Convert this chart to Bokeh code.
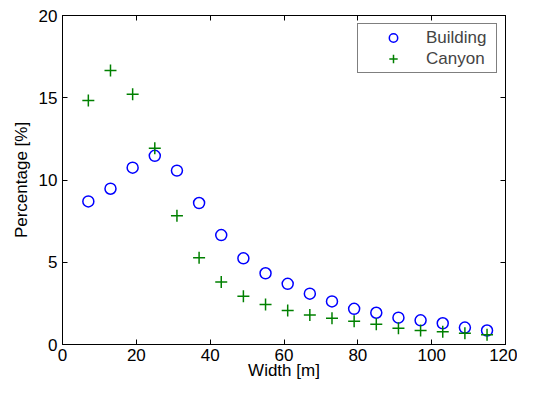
from bokeh.plotting import figure
from bokeh.models import Range1d, FixedTicker, LinearAxis, Legend, LegendItem, ColumnDataSource
from bokeh.embed import file_html
from bokeh.resources import INLINE

width_m = [7, 13, 19, 25, 31, 37, 43, 49, 55, 61, 67, 73, 79, 85, 91, 97, 103, 109, 115]
building = [8.7, 9.47, 10.75, 11.47, 10.57, 8.6, 6.65, 5.24, 4.33, 3.69, 3.09, 2.62, 2.17, 1.93, 1.63, 1.47, 1.29, 1.03, 0.85]
canyon = [14.83, 16.65, 15.22, 11.93, 7.83, 5.27, 3.8, 2.93, 2.43, 2.07, 1.8, 1.6, 1.41, 1.23, 0.99, 0.85, 0.77, 0.69, 0.6]
x_ticks = [0, 20, 40, 60, 80, 100, 120]
y_ticks = [0, 5, 10, 15, 20]

FONT = "Liberation Sans"
FS = "17px"

p = figure(width=517, height=382, output_backend="svg", toolbar_location=None,
           x_range=Range1d(0, 120), y_range=Range1d(0, 20),
           min_border_left=62, min_border_right=12, min_border_top=15, min_border_bottom=38)
p.xgrid.visible = False
p.ygrid.visible = False
p.outline_line_color = "black"
p.outline_line_width = 1

src = ColumnDataSource(dict(x=width_m, b=building, c=canyon))
r1 = p.scatter("x", "b", source=src, marker="circle", size=11, fill_color=None,
               line_color="#0000ff", line_width=1.5)
r2 = p.scatter("x", "c", source=src, marker="cross", size=12,
               line_color="#008000", line_width=1.5)

def style(ax, ticks, show_labels=True):
    ax.ticker = FixedTicker(ticks=ticks)
    ax.minor_tick_line_color = None
    ax.major_tick_in = 5
    ax.major_tick_out = 0
    ax.axis_line_color = "black"
    ax.major_tick_line_color = "black"
    ax.major_label_text_font = FONT
    ax.axis_label_text_font = FONT
    ax.axis_label_text_font_size = FS
    ax.axis_label_text_font_style = "normal"
    ax.axis_label_text_color = "black"
    if show_labels:
        ax.major_label_text_font_size = FS
        ax.major_label_text_color = "black"
    else:
        ax.major_label_text_font_size = "1px"
        ax.major_label_text_color = None
        ax.major_label_standoff = 0

style(p.xaxis[0], x_ticks)
style(p.yaxis[0], y_ticks)
p.xaxis[0].axis_label = "Width [m]"
p.yaxis[0].axis_label = "Percentage [%]"
p.xaxis[0].major_label_standoff = 4
p.yaxis[0].major_label_standoff = 5
p.xaxis[0].axis_label_standoff = -3
p.yaxis[0].axis_label_standoff = 5

top = LinearAxis()
style(top, x_ticks, False)
right = LinearAxis()
style(right, y_ticks, False)
p.add_layout(top, "above")
p.add_layout(right, "right")

legend = Legend(items=[LegendItem(label="Building", renderers=[r1]),
                       LegendItem(label="Canyon", renderers=[r2])],
                location="top_right")
legend.margin = 8
legend.padding = 3
legend.spacing = 0
legend.glyph_width = 64
legend.glyph_height = 21
legend.label_height = 21
legend.label_width = 67
legend.label_standoff = 1
legend.label_text_font = FONT
legend.label_text_font_size = FS
legend.border_line_color = "black"
legend.border_line_width = 1
legend.background_fill_alpha = 1
p.add_layout(legend, "center")

open("out.html", "w").write(file_html(p, INLINE))
